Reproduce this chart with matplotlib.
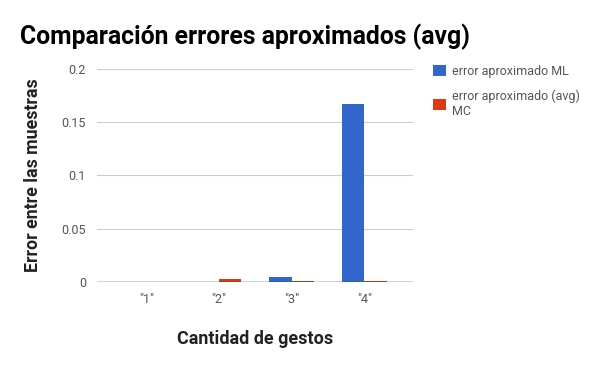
import matplotlib.pyplot as plt
import numpy as np

plt.rcParams['font.family'] = ['Roboto', 'DejaVu Sans']

categorias = ['"1"', '"2"', '"3"', '"4"']
error_ml = [0.0, 0.0, 0.0047, 0.167]
error_mc = [0.0, 0.003, 0.001, 0.001]
series = ['error aproximado ML', 'error aproximado (avg)\nMC']

fig = plt.figure(figsize=(6, 3.71), dpi=100)
ax = fig.add_axes([0.162, 0.24, 0.527, 0.574])

x = np.arange(len(categorias))
w = 0.31
ax.bar(x - w / 2, error_ml, w, color='#3366cc', label=series[0], zorder=3)
ax.bar(x + w / 2, error_mc, w, color='#dc3912', label=series[1], zorder=3)

ax.set_ylim(0, 0.2)
ax.set_xlim(-0.674, 3.674)
ax.set_yticks([0, 0.05, 0.1, 0.15, 0.2])
ax.set_yticklabels(['0', '0.05', '0.1', '0.15', '0.2'])
ax.set_xticks(x)
ax.set_xticklabels(categorias)
ax.tick_params(axis='both', length=0, labelsize=9, labelcolor='#555555', pad=8)
ax.grid(axis='y', color='#cccccc', linewidth=0.8, zorder=0)
ax.axhline(0, color='#333333', linewidth=1, zorder=4)
for s in ax.spines.values():
    s.set_visible(False)

ax.set_ylabel('Error entre las muestras', fontsize=12.8, fontweight='bold', color='#222222', labelpad=14)
ax.set_xlabel('Cantidad de gestos', fontsize=13, fontweight='bold', color='#222222', labelpad=17)

fig.text(0.033, 0.9, 'Comparación errores aproximados (avg)', fontsize=17.8, fontweight='bold', color='#000000', va='center')

fig.legend(loc='upper left', bbox_to_anchor=(0.703, 0.855), frameon=False, fontsize=9,
           labelcolor='#555555', handlelength=1.0, handleheight=1.0, labelspacing=0.9,
           handletextpad=0.55)

fig.savefig('out.png', dpi=100)
